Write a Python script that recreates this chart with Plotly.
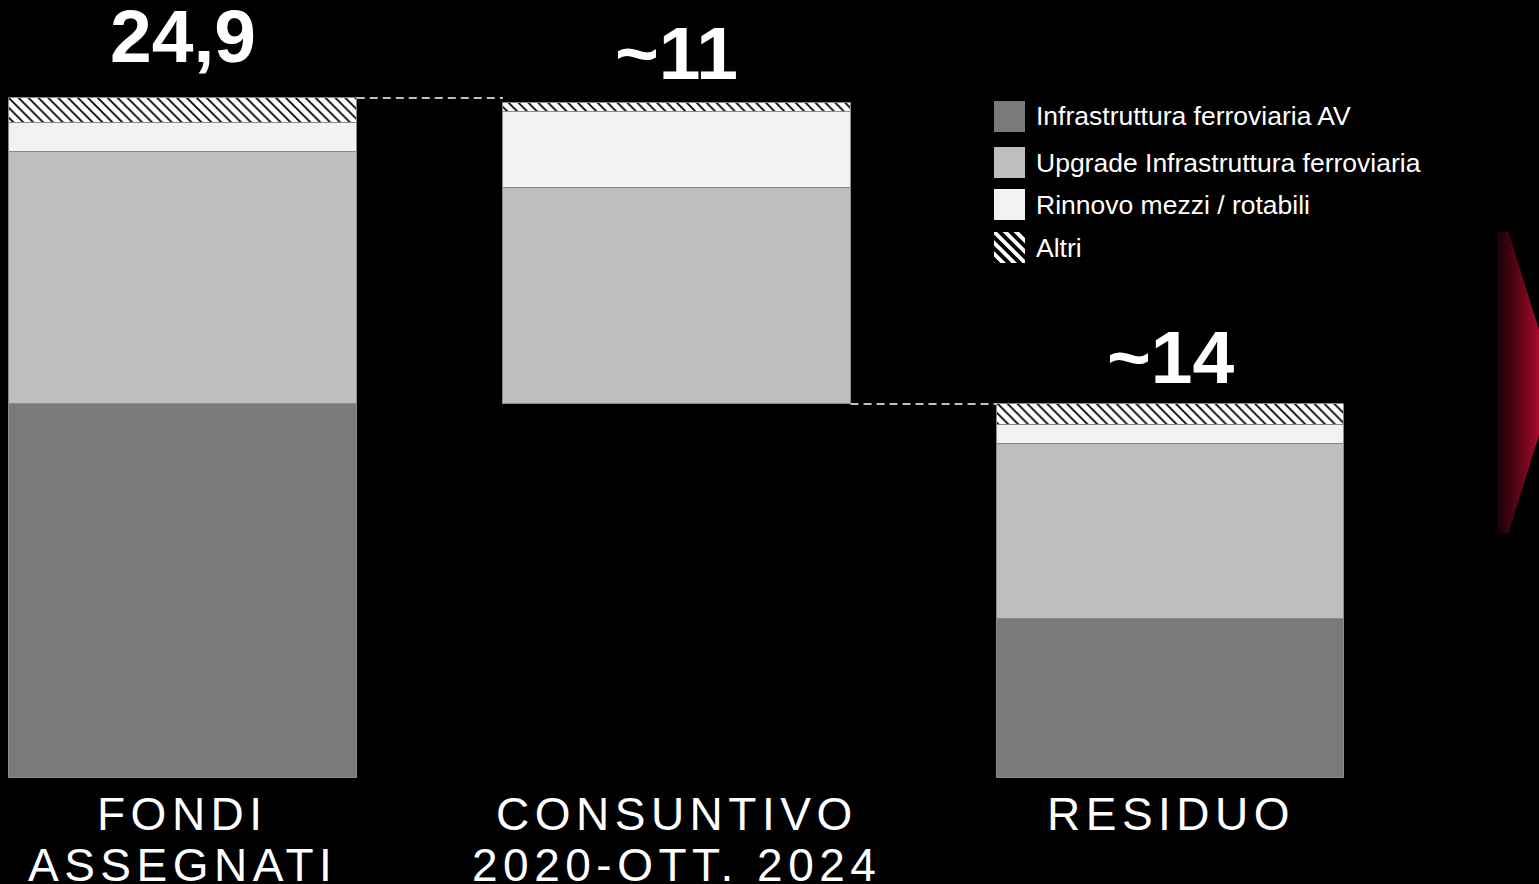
import numpy as np
import plotly.graph_objects as go

# ---------------- data ----------------
categories = ["FONDI ASSEGNATI", "CONSUNTIVO 2020-OTT. 2024", "RESIDUO"]
label_line1 = ["FONDI", "CONSUNTIVO", "RESIDUO"]
label_line2 = ["ASSEGNATI", "2020-OTT. 2024", ""]
start_values = [0.0, 13.71, 0.0]
av_values = [13.71, 0.0, 5.82]
upgrade_values = [9.24, 7.90, 6.44]
rinnovo_values = [1.04, 2.78, 0.68]
altri_values = [0.92, 0.33, 0.76]
total_labels = ["24,9", "~11", "~14"]
series_names = ["Infrastruttura ferroviaria AV",
                "Upgrade Infrastruttura ferroviaria",
                "Rinnovo mezzi / rotabili",
                "Altri"]

# ---------------- style ----------------
W, H = 1539, 884
colors = ["#7a7a7a", "#bebebe", "#f2f2f2", "#ffffff"]
FONT = "Liberation Sans, Arial, sans-serif"
bar_width = 0.704
x_range = [-0.3706, 2.7463]
y_range = [-3.87, 28.50]

series = [av_values, upgrade_values, rinnovo_values, altri_values]

fig = go.Figure()
bases = np.array(start_values, dtype=float)
for i, (name, vals) in enumerate(zip(series_names, series)):
    vals = np.array(vals, dtype=float)
    marker = dict(color=colors[i], line=dict(color="#8a8a8a", width=1))
    if name == "Altri":
        marker["pattern"] = dict(shape="\\", fgcolor="black", bgcolor="white",
                                 size=7, solidity=0.25, fillmode="replace")
    fig.add_trace(go.Bar(x=categories, y=vals, base=bases.copy(), width=bar_width,
                         name=name, marker=marker, showlegend=False,
                         hoverinfo="skip"))
    bases = bases + vals

tops = bases  # top of each bar

# connector dashed lines
shapes = []
shapes.append(dict(type="line", xref="x", yref="y",
                   x0=0 + bar_width / 2, x1=1 - bar_width / 2,
                   y0=tops[0], y1=tops[0],
                   line=dict(color="white", width=1.5, dash="8px,5px")))
shapes.append(dict(type="line", xref="x", yref="y",
                   x0=1 + bar_width / 2, x1=2 - bar_width / 2,
                   y0=start_values[1], y1=start_values[1],
                   line=dict(color="white", width=1.5, dash="8px,5px")))

def px(x):
    return x / W

def py(y):
    return 1 - y / H

def path(points):
    return "M " + " L ".join(f"{px(x):.5f},{py(y):.5f}" for x, y in points) + " Z"

# red gradient arrow at right edge (decoration)
ax_left, ax_corner, ax_top, ax_bot, ax_tip = 1497, 1508, 232, 533, (1555, 382.5)

def top_edge(x):
    if x <= ax_corner:
        return ax_top
    return ax_top + (x - ax_corner) * (ax_tip[1] - ax_top) / (ax_tip[0] - ax_corner)

def bot_edge(x):
    if x <= ax_corner:
        return ax_bot
    return ax_bot - (x - ax_corner) * (ax_bot - ax_tip[1]) / (ax_tip[0] - ax_corner)

c0 = np.array([22, 1, 6])
c1 = np.array([165, 12, 42])
for xa in range(ax_left, W):
    xb = xa + 1
    t = (xa + 0.5 - ax_left) / (W - ax_left)
    c = (c0 + (c1 - c0) * t).astype(int)
    pts = [(xa, top_edge(xa)), (xb + 0.6, top_edge(xb)), (xb + 0.6, bot_edge(xb)), (xa, bot_edge(xa))]
    shapes.append(dict(type="path", xref="paper", yref="paper", path=path(pts),
                       fillcolor=f"rgb({c[0]},{c[1]},{c[2]})", line=dict(width=0), layer="below"))

# manual legend
leg_x0, leg_x1 = 994, 1025
leg_rows = [(101, 132), (147, 178), (189, 220), (232, 263)]
annotations = []


def clip(poly, a, b, cval):
    out = []
    n = len(poly)
    for k in range(n):
        p, q = poly[k], poly[(k + 1) % n]
        fp = a * p[0] + b * p[1] - cval
        fq = a * q[0] + b * q[1] - cval
        if fp <= 0:
            out.append(p)
        if fp * fq < 0:
            tt = fp / (fp - fq)
            out.append((p[0] + tt * (q[0] - p[0]), p[1] + tt * (q[1] - p[1])))
    return out


for i, name in enumerate(series_names):
    y0, y1 = leg_rows[i]
    shapes.append(dict(type="rect", xref="paper", yref="paper",
                       x0=px(leg_x0), x1=px(leg_x1), y0=py(y1), y1=py(y0),
                       fillcolor=colors[i], line=dict(width=0)))
    if name == "Altri":
        sq = [(leg_x0, y0), (leg_x1, y0), (leg_x1, y1), (leg_x0, y1)]
        period, bw = 11.0, 5.5
        for k in range(-4, 5):
            lo = k * period + 3
            hi = lo + bw
            poly = clip(sq, -1, 1, -(lo + leg_x0 - y0))
            poly = clip(poly, 1, -1, hi + leg_x0 - y0)
            if len(poly) >= 3:
                shapes.append(dict(type="path", xref="paper", yref="paper", path=path(poly),
                                   fillcolor="black", line=dict(width=0)))
    annotations.append(dict(xref="paper", yref="paper", x=px(1034), y=py((y0 + y1) / 2),
                            xanchor="left", yanchor="middle", showarrow=False,
                            text=name, font=dict(family=FONT, size=26.5, color="white")))

# value labels
value_shift = [62, 50, 47]
for i, lab in enumerate(total_labels):
    annotations.append(dict(xref="x", yref="y", x=categories[i], y=tops[i],
                            yshift=value_shift[i], xanchor="center", yanchor="middle",
                            showarrow=False, text=lab,
                            font=dict(family=FONT, size=75, color="white", weight="bold")))

# category labels (letter spaced)
for i in range(len(categories)):
    for txt, yy in ((label_line1[i], -1.29), (label_line2[i], -3.16)):
        if not txt:
            continue
        annotations.append(dict(xref="x", yref="y", x=categories[i], y=yy,
                                xanchor="center", yanchor="middle", showarrow=False,
                                text=f'<span style="letter-spacing:5.5px">{txt}</span>',
                                font=dict(family=FONT, size=46, color="white")))

fig.update_layout(
    width=W, height=H,
    margin=dict(l=0, r=0, t=0, b=0),
    paper_bgcolor="black", plot_bgcolor="black",
    barmode="overlay", bargap=0,
    showlegend=False,
    xaxis=dict(visible=False, range=x_range, type="category"),
    yaxis=dict(visible=False, range=y_range),
    shapes=shapes, annotations=annotations,
)

fig.write_html(
    "out.html",
    config={"displayModeBar": False},
    post_script="document.body.style.margin='0';document.body.style.background='black';"
                "document.body.style.overflow='hidden';",
)
